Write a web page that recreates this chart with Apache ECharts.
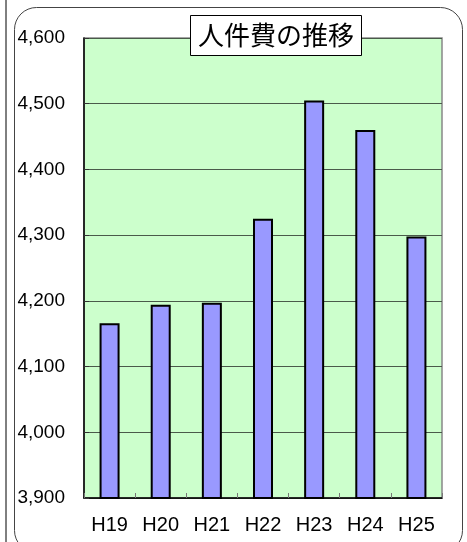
<!DOCTYPE html>
<html><head><meta charset="utf-8">
<script src="https://cdn.jsdelivr.net/npm/echarts@6/dist/echarts.min.js"></script>
<style>html,body{margin:0;padding:0;background:#fff}#c{width:467px;height:542px}</style>
</head><body><div id="c"></div>
<script>
var titleText = '人件費の推移';
var categories = ['H19','H20','H21','H22','H23','H24','H25'];
var values = [4166, 4194, 4197, 4325, 4505, 4460, 4298];
var yMin = 3900, yMax = 4600, yStep = 100;

var chart = echarts.init(document.getElementById('c'), null, {renderer:'canvas'});
chart.setOption({
  animation: false,
  backgroundColor: '#fff',
  graphic: [
    {type:'line', shape:{x1:6, y1:0, x2:6, y2:542}, style:{stroke:'#000', lineWidth:1}, z:0},
    {type:'rect', shape:{x:14.5, y:7.5, width:448, height:545, r:22}, style:{fill:'none', stroke:'#444', lineWidth:1}, z:0}
  ],
  title: {
    text: titleText, left: 190, top: 15,
    backgroundColor: '#fff', borderColor: '#000', borderWidth: 1,
    padding: [6, 8],
    textStyle: {fontFamily: '"Noto Sans CJK JP"', fontSize: 26, fontWeight: 'normal', color: '#000', lineHeight: 29}
  },
  grid: {left: 84, right: 25, top: 38, bottom: 44, show: true, backgroundColor: '#ccffcc', borderColor: '#888', borderWidth: 1.5, containLabel: false},
  xAxis: {
    type: 'category', data: categories,
    axisLine: {lineStyle: {color: '#000', width: 1.5}},
    axisTick: {show: true, inside: true, length: 5, lineStyle: {color: '#777'}},
    axisLabel: {fontFamily: '"Liberation Sans"', fontSize: 20, color: '#000', margin: 17}
  },
  yAxis: {
    type: 'value', min: yMin, max: yMax, interval: yStep,
    axisLine: {show: true, lineStyle: {color: '#000', width: 1.5}},
    axisTick: {show: true, inside: true, length: 5, lineStyle: {color: '#333'}},
    splitLine: {lineStyle: {color: '#4a5a4a', width: 1}},
    axisLabel: {fontFamily: '"Liberation Sans"', fontSize: 19, color: '#000', margin: 19,
      formatter: function(v){ return v.toLocaleString('en-US'); }}
  },
  series: [{
    type: 'bar', data: values, barWidth: 20,
    itemStyle: {color: '#9999ff', borderColor: '#000', borderWidth: 2}
  }]
});
</script></body></html>
